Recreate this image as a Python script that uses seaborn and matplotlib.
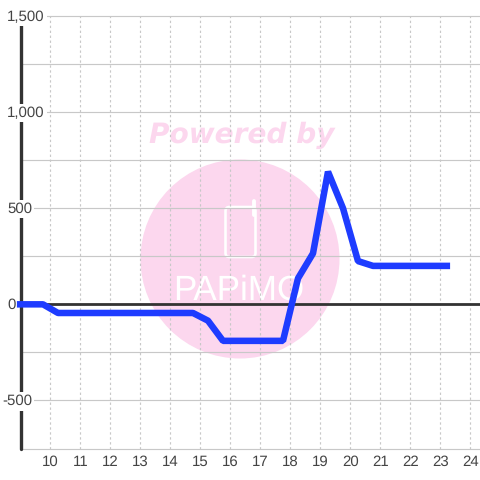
import matplotlib
matplotlib.use("Agg")
import matplotlib.pyplot as plt
from matplotlib.patches import Circle, FancyBboxPatch
import pandas as pd
import seaborn as sns

# ================================
# DATA
# ================================
hours = [8.88, 9.25, 9.75, 10.25, 10.75, 11.25, 11.75, 12.25, 12.75, 13.25, 13.75, 14.25,
         14.75, 15.25, 15.75, 16.25, 16.75, 17.25, 17.75, 18.25, 18.75, 19.25, 19.75,
         20.25, 20.75, 21.25, 21.75, 22.25, 22.75, 23.32]
values = [0, 0, 0, -45, -45, -45, -45, -45, -45, -45, -45, -45,
          -45, -85, -190, -190, -190, -190, -190, 135, 265, 690, 500,
          225, 200, 200, 200, 200, 200, 200]
x_ticks = list(range(10, 25))
y_major = [-500, 0, 500, 1000, 1500]
y_labels = ["-500", "0", "500", "1,000", "1,500"]
y_minor = [-750, -250, 250, 750, 1250]

sns.set_style("white")
plt.rcParams["font.family"] = ["Liberation Sans", "DejaVu Sans"]
plt.rcParams["text.hinting"] = "no_hinting"
plt.rcParams["text.hinting_factor"] = 1

df = pd.DataFrame({"hour": hours, "value": values})

fig = plt.figure(figsize=(4.8, 4.8), dpi=100)

# ================================
# WATERMARK (pixel coordinates)
# ================================
bg = fig.add_axes([0, 0, 1, 1], zorder=0)
bg.set_xlim(0, 480)
bg.set_ylim(480, 0)
bg.axis("off")
pink = "#fcd7ee"
bg.add_patch(Circle((240, 259), 99.5, color=pink, lw=0))
bg.text(242, 135.5, "Powered by", color=pink, fontsize=20.4, fontweight="bold", style="italic",
        family="DejaVu Sans", ha="center", va="center")
bg.add_patch(FancyBboxPatch((225.5, 207), 30, 50, boxstyle="round,pad=0,rounding_size=4",
                            fc="none", ec="white", lw=1.9))
bg.plot([253.5, 253.5], [201, 215], color="white", lw=2.8, solid_capstyle="round")
bg.text(239, 291, "PAPiMO", color="white", fontsize=25.5, ha="center", va="center")

# ================================
# MAIN CHART
# ================================
ax = fig.add_axes([20.5 / 480, 31.5 / 480, 459.5 / 480, 432.5 / 480], zorder=1)
ax.patch.set_alpha(0)
ax.set_xlim(9, 24.317)
ax.set_ylim(-750, 1500)

for y in y_major + y_minor:
    ax.axhline(y, color="#c8c8c8", lw=0.85, zorder=1, clip_on=False)
for x in x_ticks:
    ax.axvline(x, color="#c8c8c8", lw=0.85, ls=(0, (2, 2.2)), zorder=1)
ax.axhline(0, color="#333333", lw=2.0, zorder=2)
ax.axvline(9, color="#333333", lw=2.4, zorder=2, clip_on=False)

line_kws = dict(color="#1e3cff", lw=4.7, zorder=3, clip_on=False, solid_joinstyle="bevel", solid_capstyle="butt")
sns.lineplot(data=df, x="hour", y="value", estimator=None, sort=False, ax=ax, **line_kws)

ax.set_xlabel("")
ax.set_ylabel("")
ax.set_yticks([])
ax.set_xticks(x_ticks)
ax.tick_params(axis="x", length=0, pad=5, labelsize=11, labelcolor="#444444")
for spine in ax.spines.values():
    spine.set_visible(False)

# y labels sit over the axis line with a white box behind them
for y, lab in zip(y_major, y_labels):
    px = 2 if lab == "-500" else 7
    bg_box = dict(facecolor="white", edgecolor="none", pad=1.5)
    ax.annotate(lab, xy=(0, y), xycoords=("figure pixels", "data"), xytext=(px, -1),
                textcoords="offset pixels", ha="left", va="center", fontsize=10.8,
                color="#444444", bbox=bg_box, zorder=2.5, annotation_clip=False)

fig.savefig("out.png", dpi=100)
